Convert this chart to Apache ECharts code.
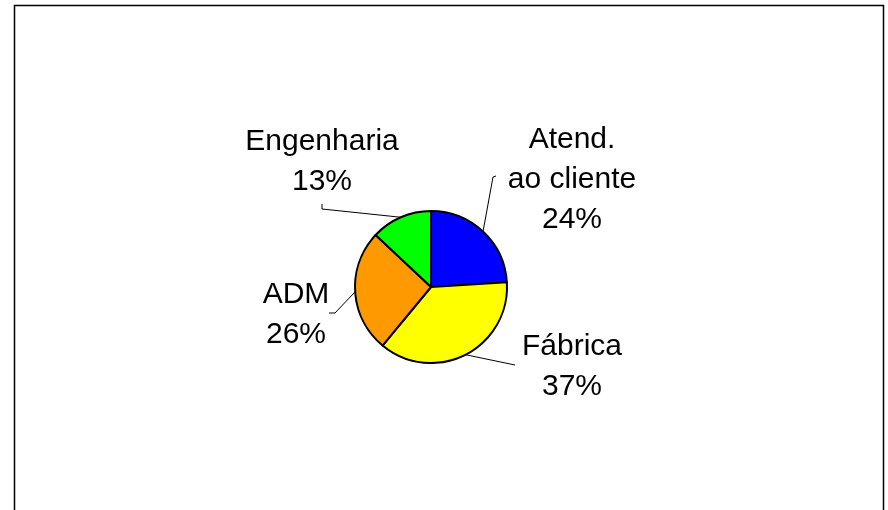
<!DOCTYPE html>
<html>
<head>
<meta charset="utf-8">
<script src="https://cdn.jsdelivr.net/npm/echarts@6/dist/echarts.min.js"></script>
<style>
    html, body { margin: 0; padding: 0; background: #fff; }
    #chart { width: 888px; height: 510px; }
</style>
</head>
<body>
<div id="chart"></div>
<script>
// data
const sectors = ['Atend.\nao cliente', 'Fábrica', 'ADM', 'Engenharia']
const shares = [24, 37, 26, 13]
const sectorColors = ['#0000ff', '#ffff00', '#ff9900', '#00ff00']

// where each label sits and where its leader line ends (Excel-like layout)
const labelSpots = [[572, 180], [572, 367], [296, 315], [322, 162]]
const lineBends = [[[493, 177], [496, 176]], [[515, 365], [515, 365]], [[335, 313], [329, 313]], [[322, 209], [322, 204]]]

const pieData = []
for (let i = 0; i < sectors.length; i++) {
    pieData.push({ name: sectors[i], value: shares[i], itemStyle: { color: sectorColors[i] } })
}

const chart = echarts.init(document.getElementById('chart'))

const option = {
    animation: false,
    backgroundColor: '#fff',
    graphic: [
        {
            type: 'rect',
            shape: { x: 14.5, y: 5.5, width: 869, height: 600 },
            style: { fill: 'none', stroke: '#000', lineWidth: 1.5 },
            silent: true
        }
    ],
    series: [
        {
            type: 'pie',
            center: [431, 287],
            radius: 76,
            startAngle: 90,
            clockwise: true,
            avoidLabelOverlap: false,
            data: pieData,
            itemStyle: {
                borderColor: '#000',
                borderWidth: 2
            },
            emphasis: { disabled: true },
            label: {
                show: true,
                position: 'outside',
                formatter: function (p) {
                    return p.name + '\n' + p.value + '%'
                },
                color: '#000',
                fontFamily: 'Liberation Sans, Arial, sans-serif',
                fontSize: 30,
                lineHeight: 40,
                align: 'center'
            },
            labelLine: {
                show: true,
                length: 10,
                length2: 10,
                smooth: false,
                lineStyle: { color: '#000', width: 1 }
            },
            labelLayout: function (params) {
                const i = params.dataIndex
                const start = params.labelLinePoints ? params.labelLinePoints[0] : lineBends[i][0]
                return {
                    x: labelSpots[i][0],
                    y: labelSpots[i][1],
                    align: 'center',
                    verticalAlign: 'middle',
                    labelLinePoints: [start, lineBends[i][0], lineBends[i][1]]
                }
            }
        }
    ]
}

chart.setOption(option)
</script>
</body>
</html>
